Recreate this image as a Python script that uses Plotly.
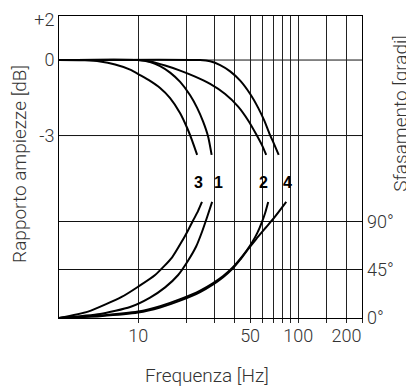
import math
import plotly.graph_objects as go

# ---------------- data ----------------
grid_freqs = [10, 20, 30, 40, 50, 60, 70, 80, 90, 100, 150, 200, 250]
grid_labels = ["10", "", "", "", "50", "", "", "", "", "100", "", "200", ""]

db_ticks = [1.62, 0, -3]
db_labels = ["+2", "0", "-3"]
deg_ticks = [0, 45, 90]
deg_labels = ["0°", "45°", "90°"]

# amplitude curves (dB)
amp3_f = [3.2, 4.65, 5.78, 7.17, 8.90, 10.27, 11.86, 13.70, 15.82, 18.28, 20.22, 21.72, 23.34]
amp3_db = [0, -0.012, -0.06, -0.18, -0.38, -0.60, -0.83, -1.11, -1.51, -2.11, -2.70, -3.20, -3.77]

amp1_f = [3.2, 9.98, 11.86, 13.70, 15.82, 18.28, 21.10, 23.34, 25.44, 27.35, 28.75]
amp1_db = [0, 0, -0.08, -0.24, -0.50, -0.87, -1.40, -1.90, -2.45, -3.05, -3.77]

amp2_f = [3.2, 9.98, 11.86, 14.72, 18.28, 22.68, 28.14, 34.93, 42.11, 48.64, 54.58, 59.50, 63.03]
amp2_db = [0, 0, -0.06, -0.22, -0.42, -0.66, -0.95, -1.35, -1.85, -2.40, -2.95, -3.40, -3.77]

amp4_f = [3.2, 24.37, 28.14, 32.50, 37.53, 43.35, 50.06, 56.17, 61.24, 65.81, 70.72, 75.45]
amp4_db = [0, 0, -0.05, -0.20, -0.45, -0.82, -1.35, -1.90, -2.40, -2.90, -3.35, -3.77]

# phase curves (degrees)
ph3_f = [3.2, 4.86, 7.93, 9.98, 12.75, 16.29, 19.04, 20.46, 21.98, 23.63, 25.02]
ph3_deg = [0, 5.9, 19.8, 29.1, 40.0, 56.5, 73.0, 81.5, 90.5, 99.5, 108]

ph1_f = [3.2, 5.78, 8.90, 11.86, 14.72, 17.76, 20.51, 23.00, 25.08, 26.95, 28.96]
ph1_deg = [0, 3.7, 10.2, 19.0, 28.5, 40.0, 53.5, 66.5, 80.5, 94.0, 108]

ph2_f = [3.2, 5.78, 9.98, 13.70, 18.28, 24.37, 29.38, 33.93, 38.63, 43.35, 47.94,
         51.52, 55.37, 59.50, 62.13, 64.86]
ph2_deg = [0, 2.3, 6.0, 11.0, 17.5, 25.5, 32.5, 39.0, 46.5, 55.0, 63.5,
           70.5, 79.0, 90.0, 98.0, 108]

ph4_f = [3.2, 5.78, 9.98, 13.70, 18.28, 24.37, 29.38, 33.93, 38.63, 43.35, 47.94,
         54.58, 62.13, 71.73, 84.07]
ph4_deg = [0, 1.7, 5.0, 9.8, 16.2, 24.2, 31.3, 38.0, 45.6, 54.3, 63.0,
           73.5, 83.5, 94.5, 108]

curve_names = ["3", "1", "2", "4"]
curve_label_f = [23.8, 31.7, 60.6, 85.0]
curve_label_db = -4.86

# ---------------- figure ----------------
fig = go.Figure()
line = dict(color="black", width=2, shape="spline", smoothing=0.6)

for f, v in [(amp3_f, amp3_db), (amp1_f, amp1_db), (amp2_f, amp2_db), (amp4_f, amp4_db)]:
    fig.add_trace(go.Scatter(x=f, y=v, mode="lines", line=line, yaxis="y",
                             showlegend=False, hoverinfo="skip"))
for f, v in [(ph3_f, ph3_deg), (ph1_f, ph1_deg), (ph2_f, ph2_deg), (ph4_f, ph4_deg)]:
    fig.add_trace(go.Scatter(x=f, y=v, mode="lines", line=line, yaxis="y2",
                             showlegend=False, hoverinfo="skip"))

tick_font = dict(family="Roboto, Liberation Sans, Arial", size=18, color="#333", weight=300)
title_font = dict(family="Roboto, Liberation Sans, Arial", size=19, color="#333", weight=300)

# the page body adds an 8px offset, so the figure is sized to compensate
fig.update_layout(
    width=406, height=381, autosize=False,
    margin=dict(l=51, r=52, t=8, b=71, pad=0),
    paper_bgcolor="white", plot_bgcolor="white",
    xaxis=dict(type="log", range=[math.log10(3.2), math.log10(250)],
               tickvals=grid_freqs, ticktext=grid_labels,
               showgrid=True, gridcolor="#222", gridwidth=1,
               ticks="outside", ticklen=4, tickcolor="#222", tickwidth=1,
               showline=True, linecolor="black", linewidth=1, mirror=True,
               zeroline=False, tickfont=tick_font, tickangle=0,
               ticklabelstandoff=-3, automargin=False),
    yaxis=dict(range=[-10.25, 1.75], tickvals=db_ticks, ticktext=db_labels,
               showgrid=False,
               showline=True, linecolor="black", linewidth=1, mirror=True,
               zeroline=False, ticks="", tickfont=tick_font, automargin=False),
    yaxis2=dict(range=[0, 281], overlaying="y", side="right",
                tickvals=deg_ticks, ticktext=deg_labels,
                showgrid=True, gridcolor="#111", gridwidth=1,
                showline=False, zeroline=False, ticks="", tickfont=tick_font,
                ticklabelstandoff=4, automargin=False),
)

# horizontal reference lines of the amplitude scale (0 dB and -3 dB)
for level in [0, -3]:
    fig.add_hline(y=level, line=dict(color="#111", width=1), yref="y", layer="below")

for name, f in zip(curve_names, curve_label_f):
    fig.add_annotation(x=math.log10(f), y=curve_label_db, xref="x", yref="y",
                       text=name, showarrow=False,
                       font=dict(family="Liberation Sans, Arial", size=16,
                                 color="black", weight="bold"))

fig.add_annotation(text="Rapporto ampiezze [dB]", xref="paper", yref="paper",
                   x=-0.129, y=0.51, textangle=-90, showarrow=False,
                   xanchor="center", yanchor="middle", font=title_font)
fig.add_annotation(text="Sfasamento [gradi]", xref="paper", yref="paper",
                   x=1.128, y=0.679, textangle=-90, showarrow=False,
                   xanchor="center", yanchor="middle", font=title_font)
fig.add_annotation(text="Frequenza [Hz]", xref="paper", yref="paper",
                   x=0.488, y=-0.192, showarrow=False,
                   xanchor="center", yanchor="middle", font=title_font)

fig.write_html("out.html")
